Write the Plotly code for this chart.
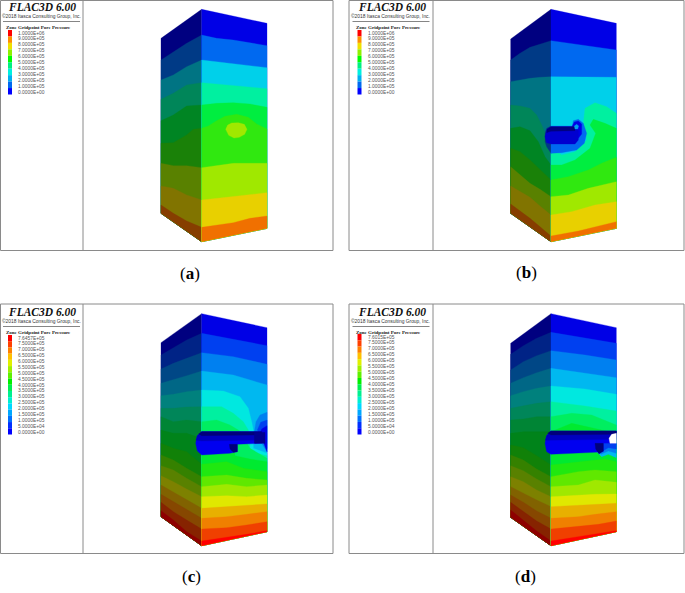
import plotly.graph_objects as go

# ---------- text ----------
LABELS_10 = ["1.0000E+06","9.0000E+05","8.0000E+05","7.0000E+05","6.0000E+05","5.0000E+05",
             "4.0000E+05","3.0000E+05","2.0000E+05","1.0000E+05","0.0000E+00"]
TAIL = ["7.5000E+05","7.0000E+05","6.5000E+05","6.0000E+05","5.5000E+05","5.0000E+05","4.5000E+05",
        "4.0000E+05","3.5000E+05","3.0000E+05","2.5000E+05","2.0000E+05","1.5000E+05","1.0000E+05",
        "5.0000E+04","0.0000E+00"]
LABELS_C = ["7.6457E+05"] + TAIL
LABELS_D = ["7.6015E+05"] + TAIL

# ---------- contour colours, low to high ----------
COL10 = ["#0000e6","#0069f0","#00d0ea","#00f0a0","#00ee40","#30e810","#a0e800","#e8d000","#f07000"]
LEG10 = ["#0000ff","#0069f0","#00b0f0","#00f0e0","#00f080","#00ff00","#90f000","#f0e000","#ff9000","#ff0000"]
COL16 = ["#0000e6","#0040f0","#0080f0","#00b8f0","#00e8e0","#00f0a0","#00ee60","#00ea30","#20e810","#60e800",
         "#a0e800","#e0e800","#e8b000","#f08000","#f04000","#ff0000"]
LEG16 = ["#0000ff","#0030ff","#0070ff","#00a8ff","#00d8ff","#00f0d0","#00f090","#00f050","#00f000","#60f000",
         "#a0f000","#e0f000","#ffc000","#ff8000","#ff4000","#ff0000"]

A_FACE = dict(l=[(33,115),(155,28),(155,725),(33,640)], r=[(155,28),(351,70),(351,685),(155,725)])
A_L = [[(33,180),(70,155),(110,130),(155,105)],
       [(33,240),(70,225),(110,200),(155,180)],
       [(33,298),(70,280),(110,255),(155,248)],
       [(33,362),(70,345),(110,318),(155,315)],
       [(33,430),(70,428),(110,405),(130,388),(155,385)],
       [(33,490),(70,497),(110,497),(155,503)],
       [(33,558),(70,565),(110,585),(155,600)],
       [(33,615),(70,640),(110,663),(155,682)]]
A_R = [[(155,105),(200,115),(250,120),(300,128),(351,137)],
       [(155,180),(200,185),(250,190),(300,196),(351,203)],
       [(155,248),(200,252),(250,256),(300,262),(351,266)],
       [(155,315),(200,310),(250,308),(300,312),(351,322)],
       [(155,385),(175,378),(200,362),(225,349),(260,343),(295,352),(320,372),(351,387)],
       [(155,503),(200,497),(250,490),(300,490),(351,490)],
       [(155,600),(200,595),(250,588),(300,582),(351,578)],
       [(155,682),(200,675),(250,668),(300,655),(351,648)]]
A_ISLAND = [(227,388),(233,375),(245,369),(265,368),(283,373),(291,388),(284,403),(268,412),(252,414),(236,406)]

B_FACE = dict(l=[(47,117),(168,28),(168,725),(47,640)], r=[(168,28),(364,70),(364,685),(168,725)])
B_L = [[(47,180),(75,160),(105,142),(135,132),(168,122)],
       [(47,245),(75,240),(105,235),(135,232),(168,230)],
       [(47,315),(75,318),(105,325),(125,345),(140,375),(168,440)],
       [(47,385),(75,380),(105,392),(130,425),(150,470),(168,495)],
       [(47,445),(75,455),(105,480),(135,510),(168,540)],
       [(47,500),(75,525),(105,550),(135,568),(168,590)],
       [(47,558),(75,575),(105,592),(135,618),(168,645)],
       [(47,612),(105,655),(168,708)]]
B_R = [[(168,122),(260,135),(364,150)],
       [(168,230),(260,230),(364,232)],
       [(168,440),(200,465),(240,455),(275,420),(265,370),(270,325),(300,308),(335,320),(364,340)],
       [(168,495),(200,495),(240,480),(285,445),(302,400),(285,375),(295,358),(330,370),(364,385)],
       [(168,540),(220,530),(280,510),(320,490),(364,472)],
       [(168,590),(220,585),(280,565),(364,545)],
       [(168,645),(230,635),(300,615),(364,605)],
       [(168,708),(250,693),(364,665)]]
B_HALO_L = [(150,400),(155,385),(168,378),(168,460),(155,440),(150,425)]
B_HALO_R = [(168,378),(232,378),(235,362),(250,358),(265,370),(275,400),(268,430),(245,450),(200,458),(168,460)]
B_TUBE = [(150,410),(156,388),(168,380),(240,380),(250,392),(250,420),(240,432),(168,432),(155,428)]
B_TUBE_DARK = [(156,388),(168,380),(240,380),(240,392),(168,394),(155,398)]
B_RING = [(232,378),(238,366),(250,363),(260,372),(260,402),(250,415),(232,415)]
B_HOLE = [(238,378),(245,373),(251,378),(248,387),(240,387)]

C_FACE = dict(l=[(33,113),(155,26),(155,722),(33,635)], r=[(155,26),(351,68),(351,680),(155,722)])
C_L = [[(33,150),(70,128),(110,105),(155,85)],
       [(33,192),(70,175),(110,160),(155,143)],
       [(33,235),(70,225),(110,212),(155,198)],
       [(33,272),(70,268),(110,260),(155,255)],
       [(33,310),(70,310),(110,306),(155,305)],
       [(33,335),(70,350),(110,345),(155,350)],
       [(33,375),(70,385),(110,385),(155,400)],
       [(33,415),(70,430),(110,440),(155,478)],
       [(33,450),(70,465),(110,490),(155,515)],
       [(33,482),(70,495),(110,520),(155,545)],
       [(33,512),(70,530),(110,552),(155,575)],
       [(33,540),(70,562),(110,585),(155,610)],
       [(33,568),(70,590),(110,615),(155,640)],
       [(33,592),(70,620),(110,645),(155,672)],
       [(33,617),(70,645),(110,680),(155,708)]]
C_R = [[(155,85),(250,103),(351,122)],
       [(155,143),(250,155),(351,178)],
       [(155,198),(250,210),(351,240)],
       [(155,255),(220,258),(270,275),(295,310),(305,350),(310,375),(310,430),(351,445)],
       [(155,305),(215,305),(250,325),(280,350),(295,375),(300,400),(300,440),(351,452)],
       [(155,350),(200,345),(240,360),(270,378),(300,430),(351,460)],
       [(155,400),(250,395),(255,452),(300,462),(351,470)],
       [(155,478),(230,470),(280,490),(351,500)],
       [(155,515),(230,510),(290,520),(351,525)],
       [(155,545),(230,538),(290,545),(351,540)],
       [(155,575),(230,572),(290,575),(351,570)],
       [(155,610),(230,605),(290,600),(351,597)],
       [(155,640),(230,635),(290,628),(351,620)],
       [(155,672),(230,668),(290,660),(351,650)],
       [(155,708),(230,698),(290,688),(351,677)]]
C_HALO = [[(351,322),(330,330),(318,350),(313,380),(351,440)],
          [(351,345),(332,352),(322,375),(351,430)],
          [(351,362),(335,372),(330,385),(351,440)]]
C_TUBE = [(137,415),(142,392),(155,380),(335,380),(335,415),(262,418),(262,440),(240,445),(155,450),(142,438)]
C_TUBE_MID = [(138,406),(142,392),(155,380),(335,380),(335,405),(155,408)]
C_TUBE_DARK = [(146,387),(155,380),(335,380),(335,390),(155,392)]
C_END = [(313,382),(345,382),(345,415),(313,415)]
C_NOTCH = [(238,418),(262,418),(262,440),(250,442),(240,432)]

D_FACE = dict(l=[(47,115),(168,26),(168,722),(47,637)], r=[(168,26),(364,68),(364,680),(168,722)])
D_L = [[(47,148),(85,122),(125,100),(168,82)],
       [(47,195),(85,170),(125,152),(168,137)],
       [(47,235),(85,218),(125,203),(168,190)],
       [(47,272),(85,260),(125,250),(168,243)],
       [(47,310),(85,303),(125,295),(168,290)],
       [(47,345),(85,342),(125,335),(168,335)],
       [(47,385),(85,380),(125,380),(168,380)],
       [(47,420),(85,428),(125,452),(168,480)],
       [(47,450),(85,465),(125,492),(168,515)],
       [(47,482),(85,497),(125,522),(168,545)],
       [(47,515),(85,530),(125,555),(168,575)],
       [(47,545),(85,565),(125,585),(168,605)],
       [(47,570),(85,592),(125,618),(168,640)],
       [(47,592),(85,620),(125,648),(168,672)],
       [(47,615),(85,645),(125,678),(168,708)]]
D_R = [[(168,82),(270,98),(364,115)],
       [(168,137),(270,150),(364,165)],
       [(168,190),(270,205),(364,218)],
       [(168,243),(270,252),(364,268)],
       [(168,290),(270,303),(364,318)],
       [(168,335),(230,325),(290,330),(364,360)],
       [(168,380),(230,355),(290,368),(340,378),(364,385)],
       [(168,480),(250,470),(300,465),(330,462),(364,470)],
       [(168,515),(250,500),(300,495),(364,500)],
       [(168,545),(250,540),(300,525),(364,532)],
       [(168,575),(250,570),(300,568),(364,567)],
       [(168,605),(250,600),(300,598),(364,595)],
       [(168,640),(250,635),(300,628),(364,620)],
       [(168,672),(250,665),(310,658),(364,648)],
       [(168,708),(250,695),(310,685),(364,677)]]
D_HALO = [[(320,415),(364,415),(364,458),(340,448),(320,455),(305,440)],
          [(325,415),(364,415),(364,445),(340,438),(318,448),(310,435)],
          [(325,415),(364,415),(364,432),(340,428),(320,440)]]
D_TUBE = [(150,415),(155,392),(168,378),(364,378),(364,415),(325,415),(325,440),(300,442),(168,448),(155,440)]
D_TUBE_MID = [(151,406),(155,392),(168,378),(364,378),(364,403),(168,406)]
D_TUBE_DARK = [(158,385),(168,378),(364,378),(364,388),(168,390)]
D_NOTCH = [(300,415),(325,415),(325,438),(312,447),(302,432)]
D_WHITE = [(364,385),(350,388),(342,400),(345,415),(364,415)]

# panel placement: crop origin of each 3x zoom
ORIG = {"a":(150,0),"b":(495,0),"c":(150,305),"d":(495,305)}

def dark(c, f=0.56):
    r,g,b = int(c[1:3],16),int(c[3:5],16),int(c[5:7],16)
    return "#%02x%02x%02x"%(int(r*f),int(g*f),int(b*f))

fig = go.Figure()

def poly(pts, color, key):
    ox,oy = ORIG[key]
    xs = [ox+p[0]/3 for p in pts]+[ox+pts[0][0]/3]
    ys = [oy+p[1]/3 for p in pts]+[oy+pts[0][1]/3]
    fig.add_trace(go.Scatter(x=xs,y=ys,mode="lines",fill="toself",fillcolor=color,
                             line=dict(width=0.3,color=color),hoverinfo="skip",showlegend=False))

def face(key, corners, bounds, cols, f=1.0):
    col = [dark(c,f) if f<1 else c for c in cols]
    poly(corners, col[0], key)
    for b,c in zip(bounds, col[1:]):
        poly(list(b)+[corners[2],corners[3]], c, key)

face("a",A_FACE["l"],A_L,COL10,0.56); face("a",A_FACE["r"],A_R,COL10)
poly(A_ISLAND,"#a0e800","a")

face("b",B_FACE["l"],B_L,COL10,0.56); face("b",B_FACE["r"],B_R,COL10)
poly(B_HALO_L,"#003a85","b"); poly(B_HALO_R,"#0069f0","b")
poly(B_RING,"#0000e6","b"); poly(B_TUBE,"#0000d0","b"); poly(B_TUBE_DARK,"#000080","b"); poly(B_HOLE,"#00a0f0","b")

face("c",C_FACE["l"],C_L,COL16,0.56); face("c",C_FACE["r"],C_R,COL16)
for h,c in zip(C_HALO,["#0080f0","#0040f0","#0000e6"]): poly(h,c,"c")
poly(C_TUBE,"#0000f0","c"); poly(C_TUBE_MID,"#0000c0","c"); poly(C_TUBE_DARK,"#00007a","c")
poly(C_END,"#000090","c"); poly(C_NOTCH,"#00007a","c")

face("d",D_FACE["l"],D_L,COL16,0.56); face("d",D_FACE["r"],D_R,COL16)
for h,c in zip(D_HALO,["#00b8f0","#0080f0","#0040f0"]): poly(h,c,"d")
poly(D_TUBE,"#0000f0","d"); poly(D_TUBE_MID,"#0000c0","d"); poly(D_TUBE_DARK,"#00007a","d")
poly(D_NOTCH,"#00007a","d"); poly(D_WHITE,"#ffffff","d")

shapes=[]; anns=[]
def T(x,y,s,size,fam="Liberation Sans",col="#333333",xa="center"):
    anns.append(dict(x=x,y=y,text=s,showarrow=False,xref="x",yref="y",xanchor=xa,yanchor="middle",
                     font=dict(size=size,family=fam,color=col)))

FRAMES=[(0.5,0.5,333,250.5,83),(349,0.5,684,250.5,433),(0.5,304,333,553.5,83),(349,304,684,553.5,433)]
for x0,y0,x1,y1,xm in FRAMES:
    shapes.append(dict(type="rect",x0=x0,y0=y0,x1=x1,y1=y1,line=dict(color="#8a8a8a",width=1),layer="above"))
    shapes.append(dict(type="line",x0=xm,y0=y0,x1=xm,y1=y1,line=dict(color="#8a8a8a",width=1),layer="above"))

def legend(x0,ytop,labels,cols,ylab0,ylabn):
    n=len(labels)
    T(x0+34,ytop+7,"<b><i>FLAC3D 6.00</i></b>",11.5,"Liberation Serif","#111111")
    T(x0+33,ytop+16,"©2018 Itasca Consulting Group, Inc.",4.9)
    shapes.append(dict(type="line",x0=x0-5,x1=x0+72,y0=ytop+21.5,y1=ytop+21.5,line=dict(color="#666666",width=0.8)))
    T(x0-4,ytop+27,"<b>Zone Gridpoint Pore Pressure</b>",5.0,"Liberation Serif","#222222","left")
    step=(ylabn-ylab0)/(n-1)
    for i,l in enumerate(labels):
        T(x0+8,ylab0+i*step,l,4.9,xa="left",col="#555555")
    bot=ylabn+2.5; top=ylab0-3
    k=len(cols); h=(bot-top)/k
    for i,c in enumerate(reversed(cols)):
        shapes.append(dict(type="rect",x0=x0,x1=x0+4,y0=top+i*h,y1=top+(i+1)*h,fillcolor=c,line=dict(width=0)))

legend(8,0,LABELS_10,LEG10,33,92)
legend(357.5,0,LABELS_10,LEG10,33,92)
legend(8,305,LABELS_C,LEG16,338,432)
legend(357.5,305,LABELS_D,LEG16,337,432)

for x,y,s in [(190,273,"(<b>a</b>)"),(526,272,"(<b>b</b>)"),(191,576,"(<b>c</b>)"),(525,576,"(<b>d</b>)")]:
    T(x,y,s,17,"Liberation Serif","#000000")

fig.update_layout(width=685,height=593,margin=dict(l=0,r=0,t=0,b=0),paper_bgcolor="white",plot_bgcolor="white",
    xaxis=dict(range=[0,685],visible=False,fixedrange=True),
    yaxis=dict(range=[593,0],visible=False,fixedrange=True),
    shapes=shapes,annotations=anns,showlegend=False)
fig.write_html("out.html",config=dict(displayModeBar=False),
               post_script="document.body.style.margin='0';document.documentElement.style.overflow='hidden';")
